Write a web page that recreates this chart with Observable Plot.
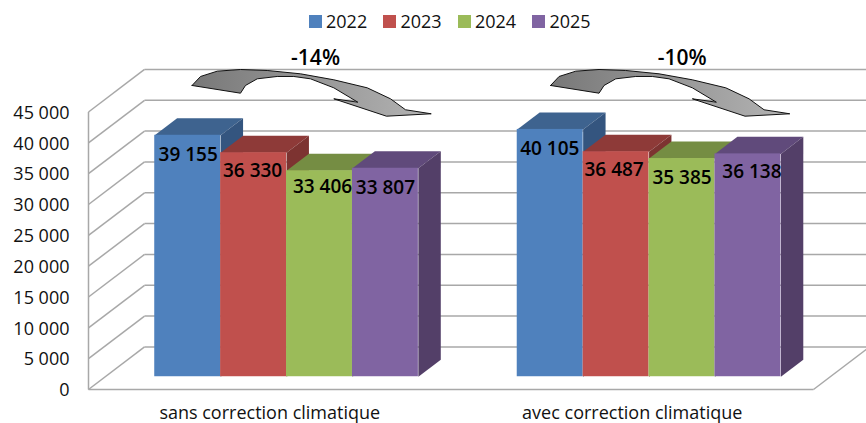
<!DOCTYPE html>
<html lang="fr">
<head>
<meta charset="utf-8">
<script src="https://cdn.jsdelivr.net/npm/d3@7"></script>
<script src="https://cdn.jsdelivr.net/npm/@observablehq/plot@0.6"></script>
<style>
  html, body { margin: 0; padding: 0; background: #fff; overflow: hidden; }
  #chart { position: relative; width: 866px; height: 423px; }
  #chart svg { font-family: "Open Sans", sans-serif; }
  #legend { position: absolute; left: 309px; top: 9px; white-space: nowrap; }
  #legend .lg-swatches, #legend div { margin: 0 !important; min-height: 0 !important; font-family: "Open Sans", sans-serif; color: #111; }
  #legend span[class$="swatch"] { margin-right: 16.3px !important; }
  #legend span[class$="swatch"] > svg { margin-right: 4px !important; width: 13px; height: 13px; }
</style>
</head>
<body>
<div id="chart"></div>
<script>
// ---- Data ----
const years = ["2022", "2023", "2024", "2025"];
const categories = ["sans correction climatique", "avec correction climatique"];
const sansCorrection = [39155, 36330, 33406, 33807];
const avecCorrection = [40105, 36487, 35385, 36138];
const yTicks = [0, 5000, 10000, 15000, 20000, 25000, 30000, 35000, 40000, 45000];
const annotations = ["-14%", "-10%"];

// ---- Colours ----
const frontColors = ["#4F81BD", "#C0504D", "#9BBB59", "#8064A2"];
const topColors = ["#3E638F", "#8E3A38", "#758D43", "#604A7B"];
const sideColors = ["#34557F", "#7D3331", "#667B3A", "#533F68"];

// ---- Layout of the pseudo-3D box, in scale units ----
const slot = 5.5, slotPad = 0.75;         // category width and gap, in bar widths
const depthX = 0.85, depthY = 6900;       // full depth of the floor
const barFront = 0.3, barBack = 0.7;      // depth range occupied by the bars
const xMax = slot * categories.length;

// Nudges of the value labels (px), as placed in the picture
const labelNudgeX = [[0.5, -1, 3, 0], [-0.4, -2, 0, 4]];
const labelNudgeY = [[20, 18, 16, 20], [19, 18, 19, 18]];

// Curved arrow outline, in scale units
const arrowX = [1.571, 2.306, 2.382, 2.56, 2.863, 3.115, 3.368, 3.722, 4.086, 3.722, 4.521, 5.2, 4.81, 4.582, 4.229, 3.722, 3.217, 2.711, 2.306, 1.953, 1.7, 1.571];
const arrowY = [49300, 48050, 49300, 50380, 50760, 50760, 50380, 48920, 46590, 47140, 44320, 44710, 45360, 47140, 48920, 50220, 51190, 51730, 51890, 51620, 50760, 49300];
const arrowShift = [0, 5.44];
const annotationX = [3.445, 9.008];
const annotationY = 53675;

const groups = [sansCorrection, avecCorrection];
const fmt = (v) => d3.format(",")(v).replace(/,/g, " ");
const barLeft = (g, s) => g * slot + slotPad + s;

function project(x, v, depth) { return {x: x + depth * depthX, y: v + depth * depthY}; }

function faceRows(s, kind) {
  return groups.flatMap((vals, g) => {
    const x0 = barLeft(g, s), x1 = x0 + 1, v = vals[s];
    const corners = kind === "top"
      ? [project(x0, v, barFront), project(x1, v, barFront), project(x1, v, barBack), project(x0, v, barBack)]
      : [project(x1, 0, barFront), project(x1, v, barFront), project(x1, v, barBack), project(x1, 0, barBack)];
    return corners.map((c) => ({...c, id: g}));
  });
}

const gridColor = "#A8A8A8", gridWidth = 1.5;
const marks = [];

// Arrow gradient
marks.push(() => {
  const defs = d3.create("svg:defs");
  const grad = defs.append("linearGradient").attr("id", "arrowFill").attr("x1", "0").attr("x2", "1").attr("y1", "0").attr("y2", "0");
  grad.append("stop").attr("offset", "0%").attr("stop-color", "#787878");
  grad.append("stop").attr("offset", "100%").attr("stop-color", "#B4B4B4");
  return defs.node();
});

// Back wall, side wall, floor
marks.push(
  Plot.link(yTicks, {x1: () => depthX, x2: () => xMax + depthX, y1: (d) => d + depthY, y2: (d) => d + depthY, stroke: gridColor, strokeWidth: gridWidth}),
  Plot.link(yTicks, {x1: () => 0, x2: () => depthX, y1: (d) => d, y2: (d) => d + depthY, stroke: gridColor, strokeWidth: gridWidth}),
  Plot.link([0], {x1: () => 0, x2: () => 0, y1: () => 0, y2: () => yTicks[yTicks.length - 1], stroke: gridColor, strokeWidth: gridWidth}),
  Plot.link([0], {x1: () => 0, x2: () => xMax, y1: () => 0, y2: () => 0, stroke: gridColor, strokeWidth: gridWidth}),
  Plot.link([0], {x1: () => xMax, x2: () => xMax + depthX, y1: () => 0, y2: () => depthY, stroke: gridColor, strokeWidth: gridWidth})
);

// Curved arrows
arrowShift.forEach((shift) => {
  marks.push(Plot.line(arrowX.map((x, i) => ({x: x + shift, y: arrowY[i]})), {
    x: "x", y: "y", fill: "url(#arrowFill)", stroke: "#111", strokeWidth: 1, curve: "linear"
  }));
});

// Bars, drawn back to front
years.forEach((yr, s) => {
  marks.push(
    Plot.line(faceRows(s, "top"), {x: "x", y: "y", z: "id", fill: topColors[s], stroke: "none"}),
    Plot.line(faceRows(s, "side"), {x: "x", y: "y", z: "id", fill: sideColors[s], stroke: "none"}),
    Plot.rect(groups.map((vals, g) => ({g, v: vals[s]})), {
      x1: (d) => project(barLeft(d.g, s), 0, barFront).x,
      x2: (d) => project(barLeft(d.g, s) + 1, 0, barFront).x,
      y1: () => barFront * depthY,
      y2: (d) => d.v + barFront * depthY,
      fill: frontColors[s], inset: 0
    })
  );
});

// Value labels
groups.forEach((vals, g) => vals.forEach((v, s) => {
  const c = project(barLeft(g, s) + 0.5, v, barFront);
  marks.push(Plot.text([v], {
    x: () => c.x, y: () => c.y, text: fmt,
    dx: labelNudgeX[g][s], dy: labelNudgeY[g][s],
    fontSize: 19, fontWeight: 600, fill: "#000"
  }));
}));

// Percent annotations
marks.push(Plot.text(annotations, {
  x: (d, i) => annotationX[i], y: () => annotationY, text: (d) => d,
  fontSize: 21, fontWeight: 600, fill: "#000"
}));

// Axes
marks.push(
  Plot.axisY(yTicks, {tickSize: 0, tickPadding: 19, tickFormat: fmt, fontSize: 18, dy: 1, fill: "#111", label: null}),
  Plot.axisX(categories.map((c, i) => (i + 0.5) * slot), {
    tickSize: 0, tickPadding: 17, tickFormat: (d) => categories[Math.floor(d / slot)], fontSize: 18, fill: "#111", label: null
  })
);

const plot = Plot.plot({
  width: 866, height: 423,
  marginLeft: 88, marginRight: 53, marginTop: 111.5, marginBottom: 34,
  x: {domain: [0, xMax]},
  y: {domain: [0, yTicks[yTicks.length - 1]]},
  marks
});
const root = document.getElementById("chart");
root.append(plot);

const legend = Plot.legend({
  color: {type: "ordinal", domain: years, range: frontColors},
  legend: "swatches", swatchSize: 13, style: {fontSize: "18px"}
});
const holder = document.createElement("div");
holder.id = "legend";
holder.append(legend);
root.append(holder);
</script>
</body>
</html>
